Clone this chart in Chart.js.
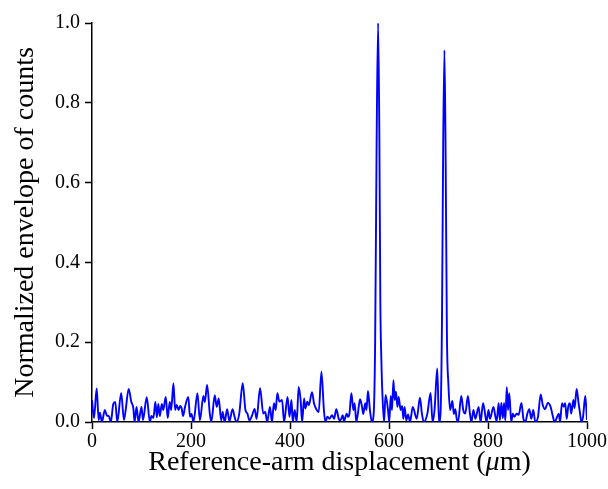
<!DOCTYPE html>
<html>
<head>
<meta charset="utf-8">
<script src="https://cdn.jsdelivr.net/npm/chart.js@4"></script>
<style>
html,body{margin:0;padding:0;background:#fff;}
#wrap{width:608px;height:489px;}
</style>
</head>
<body>
<div id="wrap"><canvas id="c" width="608" height="489"></canvas></div>
<script>
// Reference-arm displacement (µm)
const displacement = [
  0, 4, 9.5, 13.5, 16, 20, 26, 30, 34, 38, 43, 47, 51, 59, 64.5, 68, 74, 79.5, 83.5, 86,
  90, 94, 100, 103, 110.5, 117, 120, 124, 128, 131, 134, 137, 141, 144, 149, 153, 157, 160, 164.5, 168,
  171, 175, 178, 181, 184, 188, 194.5, 198, 201, 205, 213, 218, 225, 228, 232.5, 238, 241, 248, 252, 256,
  261, 264, 268, 273, 277.5, 284, 288, 292, 297.5, 304.5, 310, 314, 318, 323, 328.5, 332.5, 339.5, 346, 350, 354,
  359.5, 363.5, 367.5, 371, 374.5, 378.5, 384, 388, 395, 399, 403, 405.5, 409.5, 413.5, 417.5, 421.5, 424.5, 428.5, 431, 435,
  438, 444.5, 448.5, 454, 458, 463.5, 468.5, 471.5, 475.5, 479.5, 485, 489, 493.5, 498.5, 502, 506.5, 509, 514.5, 517, 520,
  524, 528, 530.5, 534, 537, 541.5, 545.5, 548, 552, 554.5, 557.5, 561.5, 565.5, 569, 572, 575, 578, 580.5, 582.5, 584.5,
  587, 590, 593, 598, 600.5, 603.5, 606, 609, 611.5, 614, 617, 619.5, 623.5, 626.5, 629, 631.5, 635, 638.5, 642.5, 648,
  656, 662.5, 666.5, 670.5, 677.5, 684, 688, 692, 697.5, 701, 704, 707, 709.5, 712, 714.5, 717, 720, 723.5, 728, 731,
  734, 736.5, 739.5, 746, 750, 754, 759.5, 763.5, 766.5, 770.5, 774.5, 781, 785, 790, 793, 797, 801, 804, 811, 815,
  817.5, 821.5, 824, 827, 830, 832.5, 835, 838, 840.5, 843, 847, 850, 853, 858, 862, 867.5, 871.5, 875.5, 879.5, 883.5,
  887.5, 891.5, 895.5, 901, 906.5, 910.5, 915, 921, 926.5, 930.5, 934.5, 938, 943, 945.5, 949.5, 953, 956, 959, 962, 965.5,
  968, 972.5, 975, 979, 983, 986, 988.5, 992, 996.5, 1000
];
// Normalized envelope of counts
const envelope = [
  0.055, 0.010, 0.084, 0.005, 0.023, 0.000, 0.030, 0.016, 0.015, 0.000, 0.045, 0.050, 0.000, 0.073, 0.005, 0.030, 0.083, 0.050, 0.035, 0.000,
  0.038, 0.000, 0.038, 0.005, 0.062, 0.000, 0.015, 0.010, 0.050, 0.012, 0.045, 0.015, 0.045, 0.030, 0.063, 0.010, 0.050, 0.030, 0.097, 0.030,
  0.043, 0.030, 0.040, 0.035, 0.015, 0.038, 0.063, 0.013, 0.020, 0.000, 0.072, 0.004, 0.065, 0.050, 0.093, 0.021, 0.000, 0.067, 0.038, 0.059,
  0.004, 0.025, 0.000, 0.032, 0.002, 0.032, 0.013, 0.000, 0.021, 0.097, 0.030, 0.021, 0.004, 0.015, 0.033, 0.008, 0.085, 0.021, 0.025, 0.000,
  0.038, 0.000, 0.047, 0.030, 0.072, 0.051, 0.055, 0.000, 0.063, 0.013, 0.055, 0.000, 0.030, 0.000, 0.088, 0.055, 0.000, 0.059, 0.034, 0.051,
  0.042, 0.075, 0.047, 0.030, 0.025, 0.126, 0.030, 0.000, 0.013, 0.008, 0.017, 0.008, 0.032, 0.008, 0.004, 0.017, 0.002, 0.021, 0.013, 0.020,
  0.072, 0.030, 0.047, 0.000, 0.020, 0.057, 0.038, 0.020, 0.047, 0.030, 0.078, 0.030, 0.000, 0.020, 0.200, 0.700, 1.000, 0.720, 0.300, 0.160,
  0.060, 0.000, 0.068, 0.030, 0.000, 0.065, 0.030, 0.105, 0.055, 0.076, 0.038, 0.063, 0.030, 0.040, 0.008, 0.038, 0.004, 0.019, 0.000, 0.038,
  0.008, 0.061, 0.021, 0.000, 0.021, 0.073, 0.000, 0.030, 0.134, 0.000, 0.020, 0.250, 0.700, 0.932, 0.650, 0.220, 0.095, 0.030, 0.053, 0.020,
  0.032, 0.010, 0.000, 0.065, 0.030, 0.021, 0.065, 0.021, 0.000, 0.030, 0.008, 0.038, 0.000, 0.047, 0.030, 0.000, 0.030, 0.008, 0.038, 0.013,
  0.002, 0.047, 0.005, 0.048, 0.010, 0.048, 0.004, 0.087, 0.030, 0.072, 0.000, 0.021, 0.013, 0.021, 0.018, 0.048, 0.008, 0.000, 0.021, 0.032,
  0.008, 0.030, 0.000, 0.013, 0.069, 0.043, 0.032, 0.048, 0.038, 0.017, 0.000, 0.008, 0.021, 0.000, 0.047, 0.038, 0.047, 0.008, 0.038, 0.047,
  0.021, 0.055, 0.035, 0.083, 0.047, 0.021, 0.000, 0.013, 0.065, 0.005
];
const xTicks = [0, 200, 400, 600, 800, 1000];
const yTicks = [0.0, 0.2, 0.4, 0.6, 0.8, 1.0];
// x-axis title pieces: [text, italic]
const xTitleParts = [['Reference-arm displacement (', false], ['μ', true], ['m)', false]];
const yTitle = 'Normalized envelope of counts';

const points = displacement.map((x, i) => ({x: x, y: envelope[i]}));
const serif = '"Liberation Serif", "Times New Roman", serif';
const titleSize = 28;
const titleBottomPad = 10;

const mixedTitle = {
  id: 'mixedTitle',
  afterDraw(chart) {
    const s = chart.scales.x;
    const ctx = chart.ctx;
    const ca = chart.chartArea;
    ctx.save();
    ctx.fillStyle = '#000';
    ctx.textBaseline = 'middle';
    ctx.textAlign = 'left';
    const fonts = xTitleParts.map(p => (p[1] ? 'italic ' : '') + titleSize + 'px ' + serif);
    let total = 0;
    const widths = xTitleParts.map((p, i) => { ctx.font = fonts[i]; const w = ctx.measureText(p[0]).width; total += w; return w; });
    let x = (ca.left + ca.right) / 2 - total / 2;
    const y = s.bottom - titleSize * 1.2 / 2 - titleBottomPad;
    xTitleParts.forEach((p, i) => { ctx.font = fonts[i]; ctx.fillText(p[0], x, y); x += widths[i]; });
    ctx.restore();
  }
};

new Chart(document.getElementById('c'), {
  type: 'line',
  data: {
    datasets: [{
      data: points,
      borderColor: '#0000ff',
      borderWidth: 1.9,
      pointRadius: 0,
      fill: false,
      cubicInterpolationMode: 'monotone'
    }]
  },
  options: {
    responsive: false,
    devicePixelRatio: 1,
    animation: false,
    layout: {padding: {top: 23, right: 21, left: 0, bottom: 0}},
    plugins: {legend: {display: false}, tooltip: {enabled: false}},
    scales: {
      x: {
        type: 'linear',
        min: 0, max: 1000,
        afterBuildTicks: s => { s.ticks = xTicks.map(v => ({value: v})); },
        afterFit: s => { s.height = 67; },
        ticks: {
          color: '#000', font: {family: serif, size: 20}, padding: 1, maxRotation: 0,
          callback: v => String(v)
        },
        grid: {drawOnChartArea: false, drawTicks: true, tickLength: 7, color: '#000', tickWidth: 1.5},
        border: {display: true, color: '#000', width: 1.5},
        title: {display: false}
      },
      y: {
        type: 'linear',
        min: 0, max: 1,
        afterBuildTicks: s => { s.ticks = yTicks.map(v => ({value: v})); },
        afterFit: s => { s.width = 92; },
        ticks: {
          color: '#000', font: {family: serif, size: 20}, padding: 5,
          callback: v => Number(v).toFixed(1)
        },
        grid: {drawOnChartArea: false, drawTicks: true, tickLength: 7, color: '#000', tickWidth: 1.5},
        border: {display: true, color: '#000', width: 1.5},
        title: {display: true, text: yTitle, color: '#000', font: {family: serif, size: 28}, padding: {top: 9, bottom: 0}}
      }
    }
  },
  plugins: [mixedTitle]
});
</script>
</body>
</html>
